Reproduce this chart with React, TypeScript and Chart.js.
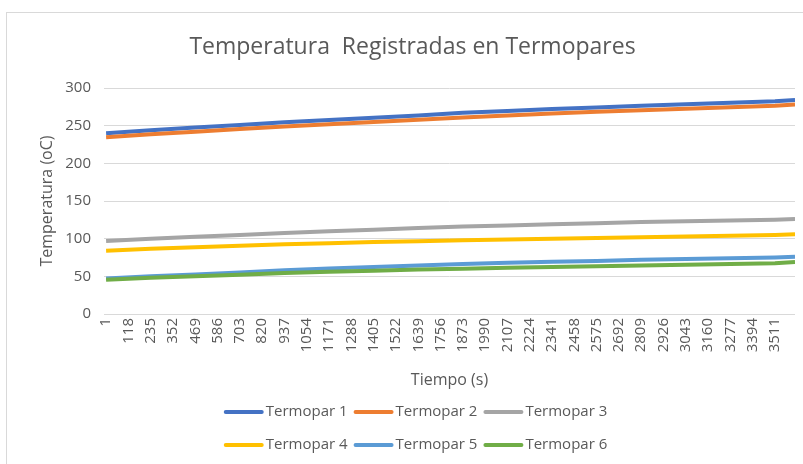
import React, { useEffect, useRef } from "react";
import { Chart, registerables } from "chart.js";

Chart.register(...registerables);

// Tiempo (s) at which the values were read
const tiempos = [1, 235, 469, 703, 937, 1171, 1405, 1639, 1873, 2107, 2341, 2575, 2809, 3043, 3277, 3511, 3616];

const termopar1 = [240, 244, 247.5, 251, 254.5, 257.5, 260.5, 263.5, 267, 269.5, 272, 274, 276.5, 278.5, 280.5, 282.5, 284];
const termopar2 = [234.5, 238.5, 242, 245.5, 249, 252, 255, 258, 261, 263.5, 266, 268.5, 270.5, 272.5, 274.5, 276.5, 278];
const termopar3 = [97, 100, 102.5, 105, 107.5, 110, 112, 114, 116, 117.5, 119, 120.5, 122, 123, 124, 125, 126];
const termopar4 = [84, 86.5, 88.5, 90.5, 92.5, 94, 95.5, 96.5, 98, 99, 100, 101, 102, 103, 104, 105, 106];
const termopar5 = [47, 50, 52.5, 55, 58, 60.5, 62.5, 64.5, 66.5, 68, 69.5, 70.5, 72, 73, 74, 75, 76];
const termopar6 = [45.5, 48, 50, 52, 54.5, 56, 57.5, 59, 60, 61.5, 62.5, 63.5, 64.5, 65.5, 66.5, 67.5, 69];

const etiquetasX = [1, 118, 235, 352, 469, 586, 703, 820, 937, 1054, 1171, 1288, 1405, 1522, 1639, 1756, 1873, 1990, 2107, 2224, 2341, 2458, 2575, 2692, 2809, 2926, 3043, 3160, 3277, 3394, 3511];

const nombres = ["Termopar 1", "Termopar 2", "Termopar 3", "Termopar 4", "Termopar 5", "Termopar 6"];
const colores = ["#4472C4", "#ED7D31", "#A5A5A5", "#FFC000", "#5B9BD5", "#70AD47"];
const series = [termopar1, termopar2, termopar3, termopar4, termopar5, termopar6];

const FONT = '"Open Sans", sans-serif';
const TEXT = "#595959";

const legendPlugin = {
  id: "excelLegend",
  afterDraw(chart: any) {
    const ctx = chart.ctx;
    const ds = chart.data.datasets;
    ctx.save();
    ctx.font = `15px ${FONT}`;
    ctx.textBaseline = "middle";
    ctx.textAlign = "left";
    const rows = [[0, 1, 2], [3, 4, 5]];
    const rowY = [412, 445];
    rows.forEach((r, ri) => {
      const widths = r.map((i) => 43 + ctx.measureText(ds[i].label).width);
      const gap = 5;
      const total = widths.reduce((a, b) => a + b, 0) + gap * (r.length - 1);
      let x = 416 - total / 2;
      r.forEach((i, k) => {
        ctx.strokeStyle = ds[i].borderColor;
        ctx.lineWidth = 4;
        ctx.lineCap = "round";
        ctx.beginPath();
        ctx.moveTo(x + 2, rowY[ri]);
        ctx.lineTo(x + 38, rowY[ri]);
        ctx.stroke();
        ctx.fillStyle = TEXT;
        ctx.fillText(ds[i].label, x + 42, rowY[ri]);
        x += widths[k] + gap;
      });
    });
    ctx.restore();
  },
};

export default function App() {
  const ref = useRef<HTMLCanvasElement | null>(null);

  useEffect(() => {
    if (!ref.current) return;
    const chart = new Chart(ref.current, {
      type: "line",
      data: {
        datasets: series.map((s, i) => ({
          label: nombres[i],
          data: tiempos.map((t, j) => ({ x: t, y: s[j] })),
          borderColor: colores[i],
          backgroundColor: colores[i],
          borderWidth: 4,
          pointRadius: 0,
          tension: 0,
          order: 6 - i,
        })),
      },
      options: {
        animation: false,
        responsive: false,
        maintainAspectRatio: false,
        layout: { padding: { left: 30, right: 30, top: 0, bottom: 70 } },
        plugins: {
          legend: { display: false },
          tooltip: { enabled: false },
          title: {
            display: true,
            text: "Temperatura  Registradas en Termopares",
            color: TEXT,
            font: { family: FONT, size: 23, weight: "normal" },
            padding: { top: 33.2, bottom: 27.2 },
          },
        },
        scales: {
          x: {
            type: "linear",
            min: -10,
            max: 3616,
            grid: { display: false, drawTicks: false },
            border: { display: false },
            afterBuildTicks: (scale: any) => {
              scale.ticks = etiquetasX.map((v) => ({ value: v }));
            },
            afterFit: (scale: any) => {
              scale.height = 80;
            },
            ticks: {
              autoSkip: false,
              minRotation: 90,
              maxRotation: 90,
              padding: 4,
              color: TEXT,
              font: { family: FONT, size: 15 },
              callback: (v: any) => String(v),
            },
            title: {
              display: true,
              text: "Tiempo (s)",
              color: TEXT,
              font: { family: FONT, size: 16 },
              padding: { top: 0, bottom: 4.4 },
            },
          },
          y: {
            min: 0,
            max: 300,
            grid: { color: "#d9d9d9", lineWidth: 1, drawTicks: false },
            border: { display: false },
            afterFit: (scale: any) => {
              scale.width = 74;
            },
            ticks: {
              stepSize: 50,
              padding: 13,
              color: TEXT,
              font: { family: FONT, size: 15 },
            },
            title: {
              display: true,
              text: "Temperatura (oC)",
              color: TEXT,
              font: { family: FONT, size: 16 },
              padding: { top: 7.4, bottom: 0 },
            },
          },
        },
      },
      plugins: [legendPlugin],
    });
    return () => chart.destroy();
  }, []);

  return (
    <div
      style={{
        position: "fixed",
        left: 0,
        top: 0,
        width: 803,
        height: 464,
        overflow: "hidden",
        background: "#ffffff",
      }}
    >
      <div
        style={{
          position: "absolute",
          left: 6,
          top: 12,
          width: 840,
          height: 480,
          border: "1px solid #d9d9d9",
          boxSizing: "border-box",
        }}
      />
      <canvas
        ref={ref}
        width={825}
        height={464}
        style={{ position: "absolute", left: 0, top: 0, width: 825, height: 464 }}
      />
    </div>
  );
}
